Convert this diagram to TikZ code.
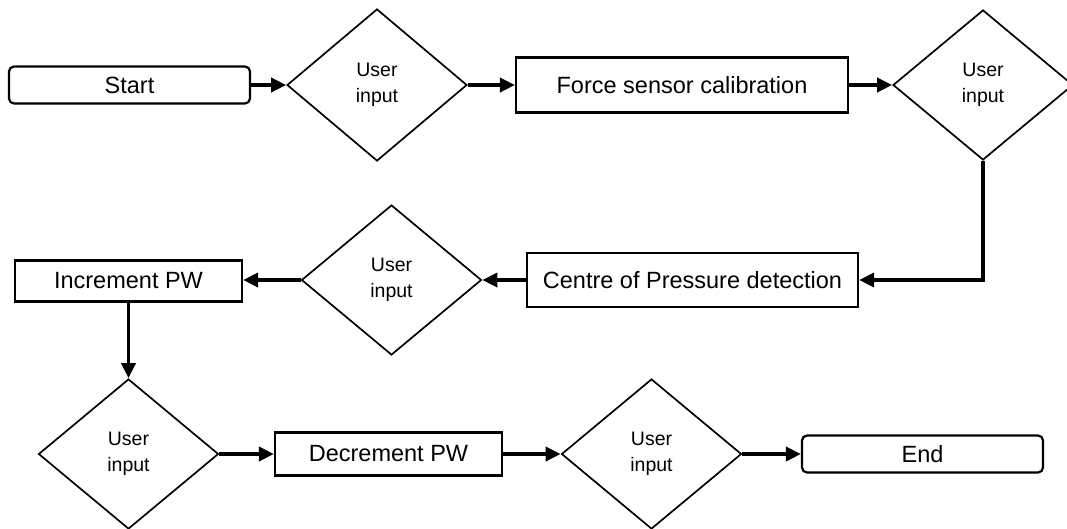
\documentclass[tikz,border=0pt]{standalone}
\usepackage{fontspec}
\setmainfont{Liberation Sans}
\usetikzlibrary{shapes.geometric,arrows.meta}

\newcommand{\userinput}{\shortstack{User\\[9pt]input}}

\tikzset{
  procbox/.style={draw=black, line width=2.2pt, rectangle, inner sep=0pt,
    font=\fontsize{23.5}{28}\selectfont},
  termbox/.style={procbox, rounded corners=5pt},
  decision/.style={draw=black, line width=1.7pt, diamond, inner sep=0pt,
    minimum width=180pt, minimum height=152pt, align=center,
    font=\fontsize{19.5}{24}\selectfont},
  flow/.style={line width=3.6pt, -{Triangle[length=15pt,width=14pt]}},
}

\begin{document}
\begin{tikzpicture}[x=1pt, y=-1pt]
  \useasboundingbox (0,0) rectangle (1067,528);

  % first row
  \node[termbox, minimum width=241pt, minimum height=37pt] (start) at (129.5,85) {Start};
  \node[decision] (d1) at (377,85) {\userinput};
  \node[procbox, minimum width=332pt, minimum height=55pt] (force) at (682,85) {Force sensor calibration};
  \node[decision, minimum height=150pt] (d2) at (983,85) {\userinput};

  % second row
  \node[procbox, minimum width=331pt, minimum height=54pt] (cop) at (692.5,280) {Centre of Pressure detection};
  \node[decision, minimum height=150pt] (d3) at (391.5,280) {\userinput};
  \node[procbox, minimum width=227pt, minimum height=41pt] (inc) at (128.5,281) {Increment PW};

  % third row
  \node[decision, minimum height=150pt] (d4) at (128.5,454) {\userinput};
  \node[procbox, minimum width=227pt, minimum height=43pt] (dec) at (388.5,454) {Decrement PW};
  \node[decision, minimum height=150pt] (d5) at (651.5,454) {\userinput};
  \node[termbox, minimum width=241pt, minimum height=37pt] (end) at (922.5,454) {End};

  % connectors
  \draw[flow] (start.east) -- (d1.west);
  \draw[flow] (d1.east) -- (force.west);
  \draw[flow] (force.east) -- (d2.west);
  \draw[flow] (d2.south) |- (cop.east);
  \draw[flow] (cop.west) -- (d3.east);
  \draw[flow] (d3.west) -- (inc.east |- d3.west);
  \draw[flow] (inc.south) -- (d4.north);
  \draw[flow] (d4.east) -- (dec.west);
  \draw[flow] (dec.east) -- (d5.west);
  \draw[flow] (d5.east) -- (end.west);
\end{tikzpicture}
\end{document}
